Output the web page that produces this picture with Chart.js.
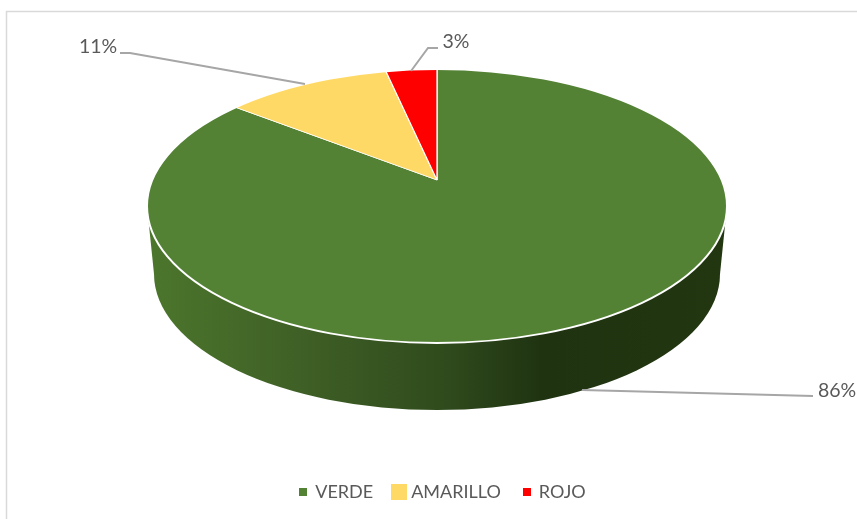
<!DOCTYPE html>
<html>
<head>
<meta charset="utf-8">
<style>
  html, body { margin: 0; padding: 0; background: #fff; overflow: hidden; }
</style>
</head>
<body>
<canvas id="pie-canvas" width="857" height="519"></canvas>
<script src="https://cdn.jsdelivr.net/npm/chart.js@4/dist/chart.umd.min.js"></script>
<script>
  const categories = ['VERDE', 'AMARILLO', 'ROJO'];
  const values = [86.3, 10.6, 3.1];
  const colors = ['#548235', '#FFD966', '#FF0000'];
  const markerSizes = [8, 16, 8];

  // Top face of the pie, as it sits on the page
  const top_face = { x: 437, y: 206, rx: 290, ry: 137 };
  const bottom_face = { x: 437, y: 274, rx: 283, ry: 136 };
  // The slices meet here, above the middle of the ellipse (perspective)
  const apex = { x: 437, y: 180 };
  const tilt = 0.42;
  const reach = 420;

  const text_color = '#595959';
  const leader_color = '#A6A6A6';
  const label_font = '19.5px Lato';

  // Label text spot and leader line for each slice
  const labels_layout = [
    { x: 837, y: 391, line: [[582, 390], [813, 396]] },
    { x: 98, y: 47, line: [[305, 84], [130, 53], [120, 53]] },
    { x: 456, y: 42, line: [[411, 71], [428, 48], [438, 48]] }
  ];

  // Square legend markers, each with its own size
  let make_marker = function(color, size) {
    let c = document.createElement('canvas');
    c.width = size;
    c.height = size;
    let x = c.getContext('2d');
    x.fillStyle = color;
    x.fillRect(0, 0, size, size);
    return c;
  };

  let frame_plugin = {
    id: 'frame',
    beforeDraw(chart) {
      let ctx = chart.ctx;
      ctx.save();
      ctx.strokeStyle = '#D9D9D9';
      ctx.lineWidth = 1.5;
      ctx.beginPath();
      ctx.moveTo(6.5, 519);
      ctx.lineTo(6.5, 11.5);
      ctx.lineTo(857, 11.5);
      ctx.stroke();
      ctx.restore();
    }
  };

  let pie3d_plugin = {
    id: 'pie3d',
    beforeDatasetsDraw(chart) {
      let ctx = chart.ctx;
      let arc = chart.getDatasetMeta(0).data[0];

      // Side wall
      let wall = ctx.createLinearGradient(147, 0, 727, 0);
      wall.addColorStop(0, '#4C762C');
      wall.addColorStop(0.26, '#3F6026');
      wall.addColorStop(0.52, '#2F4A1C');
      wall.addColorStop(0.68, '#1F3311');
      wall.addColorStop(1, '#223610');
      ctx.save();
      ctx.fillStyle = wall;
      ctx.beginPath();
      ctx.ellipse(bottom_face.x, bottom_face.y, bottom_face.rx, bottom_face.ry, 0, 0, Math.PI * 2);
      ctx.fill();
      ctx.beginPath();
      ctx.moveTo(top_face.x - top_face.rx, top_face.y);
      ctx.lineTo(bottom_face.x - bottom_face.rx, bottom_face.y);
      ctx.lineTo(bottom_face.x + bottom_face.rx, bottom_face.y);
      ctx.lineTo(top_face.x + top_face.rx, top_face.y);
      ctx.closePath();
      ctx.fill();

      // Slices are drawn by Chart.js, squashed and cut to the top face
      ctx.beginPath();
      ctx.ellipse(top_face.x, top_face.y, top_face.rx, top_face.ry, 0, 0, Math.PI * 2);
      ctx.clip();
      let s = reach / arc.outerRadius;
      ctx.translate(apex.x, apex.y);
      ctx.scale(s, s * tilt);
      ctx.translate(-arc.x, -arc.y);
    },
    afterDatasetsDraw(chart) {
      let ctx = chart.ctx;
      ctx.restore();

      ctx.save();
      ctx.strokeStyle = '#FFFFFF';
      ctx.lineWidth = 2;
      ctx.beginPath();
      ctx.ellipse(top_face.x, top_face.y, top_face.rx, top_face.ry, 0, 0, Math.PI * 2);
      ctx.stroke();

      // Leader lines and percent labels
      let total = values.reduce((a, b) => a + b, 0);
      ctx.font = label_font;
      ctx.textAlign = 'center';
      ctx.textBaseline = 'middle';
      values.forEach(function(v, i) {
        let l = labels_layout[i];
        ctx.strokeStyle = leader_color;
        ctx.lineWidth = 2;
        ctx.beginPath();
        l.line.forEach(function(p, j) {
          if (j === 0) ctx.moveTo(p[0], p[1]);
          else ctx.lineTo(p[0], p[1]);
        });
        ctx.stroke();
        ctx.fillStyle = text_color;
        ctx.fillText(Math.round(v / total * 100) + '%', l.x, l.y);
      });
      ctx.restore();
    }
  };

  let pie_chart = new Chart(document.getElementById('pie-canvas').getContext('2d'), {
    type: 'pie',
    data: {
      labels: categories,
      datasets: [{
        data: values,
        backgroundColor: colors,
        borderColor: '#FFFFFF',
        borderWidth: 0.7,
        clip: false
      }]
    },
    options: {
      responsive: false,
      animation: false,
      devicePixelRatio: 1,
      layout: { padding: { left: 29, bottom: 8 } },
      plugins: {
        tooltip: { enabled: false },
        legend: {
          position: 'bottom',
          labels: {
            color: text_color,
            font: { family: 'Lato', size: 18 },
            usePointStyle: true,
            boxWidth: 6,
            boxHeight: 8,
            padding: 23,
            generateLabels(chart) {
              return categories.map(function(name, i) {
                return {
                  text: name,
                  fontColor: text_color,
                  pointStyle: make_marker(colors[i], markerSizes[i]),
                  lineWidth: 0,
                  index: i
                };
              });
            }
          }
        }
      }
    },
    plugins: [frame_plugin, pie3d_plugin]
  });
</script>
</body>
</html>
